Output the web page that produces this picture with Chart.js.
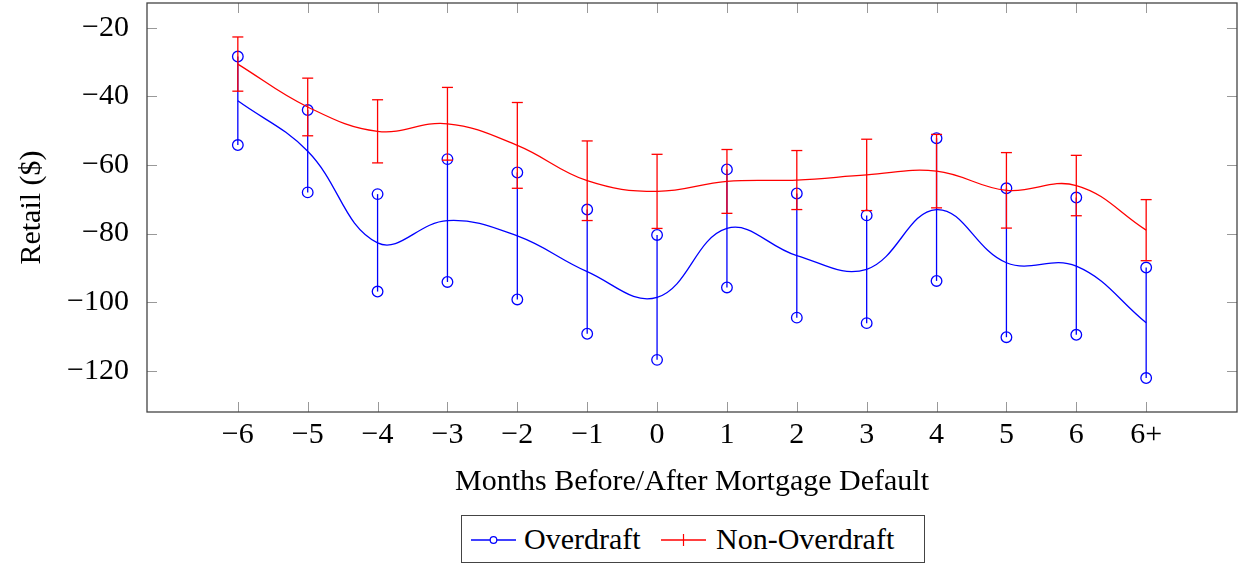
<!DOCTYPE html>
<html>
<head>
<meta charset="utf-8">
<title>Retail spending around mortgage default</title>
<script src="https://cdn.jsdelivr.net/npm/chart.js@4/dist/chart.umd.min.js"></script>
<style>
  body { margin: 0; background: #fff; }
  #wrap { position: relative; width: 1239px; height: 565px; }
  #legend {
    position: absolute; left: 461px; top: 515px; width: 464px; height: 48px;
    box-sizing: border-box; border: 1.3px solid #444; background: #fff;
    font-family: 'Liberation Serif', serif; font-size: 30px; color: #000;
  }
  #legend svg { position: absolute; top: 0; left: 0; }
  #legend span { position: absolute; top: 5px; line-height: 36px; white-space: nowrap; }
</style>
</head>
<body>
<div id="wrap">
  <canvas id="retailChart" width="1239" height="565"></canvas>
  <div id="legend">
    <svg width="464" height="48">
      <line x1="9" y1="24" x2="54" y2="24" stroke="#0000ff" stroke-width="1.3"/>
      <circle cx="31.5" cy="24" r="3.3" fill="#fff" stroke="#0000ff" stroke-width="1.2"/>
      <line x1="199" y1="24" x2="244" y2="24" stroke="#ff0000" stroke-width="1.3"/>
      <line x1="221.5" y1="18" x2="221.5" y2="30" stroke="#ff0000" stroke-width="1.2"/>
    </svg>
    <span style="left: 62px">Overdraft</span>
    <span style="left: 254px">Non-Overdraft</span>
  </div>
</div>
<script>
// months relative to the default month
const xLabels = ['−6', '−5', '−4', '−3', '−2', '−1', '0', '1', '2', '3', '4', '5', '6', '6+'];
const yTicks = [-120, -100, -80, -60, -40, -20];

// mean change in retail spending and half-width of the error bar
const overdraftMean = [-41.3, -56.0, -82.7, -76.2, -80.7, -91.1, -98.6, -78.5, -86.4, -90.4, -73.0, -88.5, -89.5, -106.0];
const overdraftErr = [12.9, 12.0, 14.2, 17.9, 18.5, 18.1, 18.2, 17.2, 18.1, 15.7, 20.8, 21.7, 20.0, 16.1];
const nonOverdraftMean = [-30.6, -43.1, -50.2, -48.0, -54.3, -64.6, -67.7, -64.8, -64.4, -62.9, -61.8, -67.4, -66.0, -79.0];
const nonOverdraftErr = [7.9, 8.4, 9.2, 10.6, 12.5, 11.6, 10.8, 9.3, 8.6, 10.4, 10.7, 11.0, 8.8, 8.9];

const serif = { family: 'Liberation Serif', size: 30 };

// error bar settings per dataset (same order as datasets)
const errorSets = [
  { mean: overdraftMean, err: overdraftErr, mark: 'circle' },
  { mean: nonOverdraftMean, err: nonOverdraftErr, mark: 'dash' }
];

const errorBars = {
  id: 'errorBars',
  afterDatasetDraw(chart, args) {
    const set = errorSets[args.index];
    const color = chart.data.datasets[args.index].borderColor;
    const xs = chart.scales.x, ys = chart.scales.y;
    const ctx = chart.ctx;
    ctx.save();
    ctx.strokeStyle = color;
    ctx.lineWidth = 1.3;
    set.mean.forEach((m, i) => {
      const px = xs.getPixelForValue(i);
      const top = ys.getPixelForValue(m + set.err[i]);
      const bot = ys.getPixelForValue(m - set.err[i]);
      ctx.beginPath();
      ctx.moveTo(px, top);
      ctx.lineTo(px, bot);
      ctx.stroke();
      [top, bot].forEach(py => {
        ctx.beginPath();
        if (set.mark === 'circle') {
          ctx.arc(px, py, 5.3, 0, Math.PI * 2);
        } else {
          ctx.moveTo(px - 5.5, py);
          ctx.lineTo(px + 5.5, py);
        }
        ctx.stroke();
      });
    });
    ctx.restore();
  }
};

// box around the plot with inward tick marks on all four sides
const axisFrame = {
  id: 'axisFrame',
  afterDraw(chart) {
    const { ctx, chartArea: a } = chart;
    const xs = chart.scales.x, ys = chart.scales.y;
    ctx.save();
    ctx.strokeStyle = '#999';
    ctx.lineWidth = 1;
    ctx.beginPath();
    xLabels.forEach((_, i) => {
      const px = Math.round(xs.getPixelForValue(i)) + 0.5;
      ctx.moveTo(px, a.top); ctx.lineTo(px, a.top + 10);
      ctx.moveTo(px, a.bottom); ctx.lineTo(px, a.bottom - 10);
    });
    yTicks.forEach(v => {
      const py = Math.round(ys.getPixelForValue(v)) + 0.5;
      ctx.moveTo(a.left, py); ctx.lineTo(a.left + 10, py);
      ctx.moveTo(a.right, py); ctx.lineTo(a.right - 10, py);
    });
    ctx.stroke();
    ctx.strokeStyle = '#444';
    ctx.lineWidth = 1.3;
    ctx.strokeRect(a.left, a.top, a.right - a.left, a.bottom - a.top);
    ctx.restore();
  }
};

new Chart(document.getElementById('retailChart').getContext('2d'), {
  type: 'line',
  data: {
    datasets: [{
      label: 'Overdraft',
      data: overdraftMean.map((v, i) => ({ x: i, y: v })),
      borderColor: '#0000ff',
      borderWidth: 1.3,
      pointRadius: 0,
      tension: 0.4,
      fill: false,
      order: 1
    }, {
      label: 'Non-Overdraft',
      data: nonOverdraftMean.map((v, i) => ({ x: i, y: v })),
      borderColor: '#ff0000',
      borderWidth: 1.3,
      pointRadius: 0,
      tension: 0.4,
      fill: false,
      order: 0
    }]
  },
  options: {
    responsive: false,
    animation: false,
    layout: { padding: { top: 3, right: 2, left: 0, bottom: 0 } },
    plugins: {
      legend: { display: false },
      tooltip: { enabled: false }
    },
    scales: {
      x: {
        type: 'linear',
        min: -1.3,
        max: 14.3,
        afterBuildTicks: s => { s.ticks = xLabels.map((_, i) => ({ value: i })); },
        afterFit: s => {
          s.height = 153;
          s.paddingLeft = 0;
          s.paddingRight = 0;
        },
        grid: { display: false },
        border: { display: false },
        ticks: {
          callback: v => xLabels[v],
          font: serif,
          color: '#000',
          padding: -3,
          maxRotation: 0,
          autoSkip: false
        },
        title: {
          display: true,
          text: 'Months Before/After Mortgage Default',
          font: serif,
          color: '#000',
          padding: { top: 0, bottom: 65 }
        }
      },
      y: {
        min: -132,
        max: -12.8,
        afterBuildTicks: s => { s.ticks = yTicks.map(v => ({ value: v })); },
        afterFit: s => {
          s.width = 147;
          s.paddingTop = 0;
          s.paddingBottom = 0;
        },
        grid: { display: false },
        border: { display: false },
        ticks: {
          callback: v => String(v).replace('-', '−'),
          font: serif,
          color: '#000',
          padding: 10
        },
        title: {
          display: true,
          text: 'Retail ($)',
          font: serif,
          color: '#000',
          padding: { top: 14, bottom: 0 }
        }
      }
    }
  },
  plugins: [errorBars, axisFrame]
});
</script>
</body>
</html>
